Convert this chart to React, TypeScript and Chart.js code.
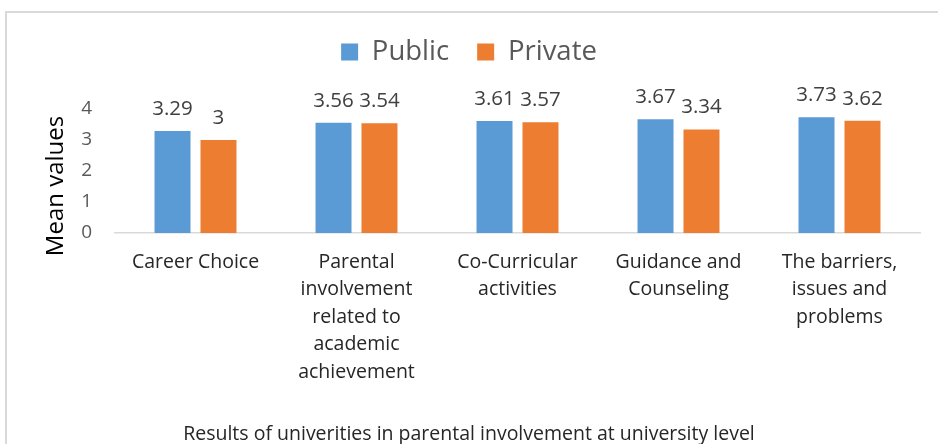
import React, { useEffect, useRef } from 'react';
import { Chart, registerables } from 'chart.js';

Chart.register(...registerables);

const FONT = '"Open Sans", Lato, sans-serif';

const categories: (string | string[])[] = [
  'Career Choice',
  ['Parental', 'involvement', 'related to', 'academic', 'achievement'],
  ['Co-Curricular', 'activities'],
  ['Guidance and', 'Counseling'],
  ['The barriers,', 'issues and', 'problems'],
];
const seriesNames = ['Public', 'Private'];
const publicValues = [3.29, 3.56, 3.61, 3.67, 3.73];
const privateValues = [3, 3.54, 3.57, 3.34, 3.62];
const yMin = 0;
const yMax = 4;
const yStep = 1;
const yTitle = 'Mean values';
const caption = 'Results of univerities in parental involvement at university level';

const dataLabelPlugin = {
  id: 'dataLabels',
  afterDatasetsDraw(chart: any) {
    const ctx = chart.ctx;
    ctx.save();
    ctx.font = `20.5px ${FONT}`;
    ctx.fillStyle = '#404040';
    ctx.textAlign = 'center';
    ctx.textBaseline = 'alphabetic';
    chart.data.datasets.forEach((ds: any, di: number) => {
      const meta = chart.getDatasetMeta(di);
      meta.data.forEach((bar: any, i: number) => {
        ctx.fillText(String(ds.data[i]), bar.x, bar.y - 16);
      });
    });
    ctx.restore();
  },
};

const yTitlePlugin = {
  id: 'yTitle',
  afterDraw(chart: any) {
    const ctx = chart.ctx;
    ctx.save();
    ctx.translate(56, 186);
    ctx.rotate(-Math.PI / 2);
    ctx.font = `24px ${FONT}`;
    ctx.fillStyle = '#000000';
    ctx.textAlign = 'center';
    ctx.textBaseline = 'middle';
    ctx.fillText(yTitle, 0, 0);
    ctx.restore();
  },
};

export default function App() {
  const canvasRef = useRef<HTMLCanvasElement | null>(null);

  useEffect(() => {
    if (!canvasRef.current) return;
    Chart.defaults.font.family = FONT;
    const legendPad = 28;
    const captionBox = 19.5;
    const chart = new Chart(canvasRef.current, {
      type: 'bar',
      data: {
        labels: categories,
        datasets: [
          {
            label: seriesNames[0],
            data: publicValues,
            backgroundColor: '#5B9BD5',
            categoryPercentage: 0.571,
            barPercentage: 0.783,
          },
          {
            label: seriesNames[1],
            data: privateValues,
            backgroundColor: '#ED7D31',
            categoryPercentage: 0.571,
            barPercentage: 0.783,
          },
        ],
      },
      options: {
        responsive: false,
        animation: false,
        devicePixelRatio: 1,
        layout: { padding: { top: 38.25 - legendPad, right: 18, bottom: 0, left: 18 } },
        scales: {
          x: {
            grid: { display: false, drawTicks: false },
            border: { display: true, color: '#d9d9d9', width: 1.5 },
            ticks: {
              font: { family: FONT, size: 19.5, lineHeight: 1.41 },
              color: '#262626',
              padding: 15.5,
              maxRotation: 0,
              autoSkip: false,
            },
            afterFit: (s: any) => {
              s.height = 444 - captionBox - 233;
            },
          },
          y: {
            min: yMin,
            max: yMax,
            ticks: {
              stepSize: yStep,
              font: { family: FONT, size: 19 },
              color: '#595959',
              padding: 23,
            },
            grid: { display: false, drawTicks: false },
            border: { display: false },
            afterFit: (s: any) => {
              s.width = 97;
            },
          },
        },
        plugins: {
          legend: {
            position: 'top',
            labels: {
              boxWidth: 17,
              boxHeight: 17,
              padding: legendPad,
              font: { family: FONT, size: 27.5 },
              color: '#595959',
            },
          },
          subtitle: {
            display: true,
            text: '',
            position: 'top',
            weight: 500,
            padding: { top: 32.25, bottom: 0 },
            font: { size: 1, lineHeight: 1 },
          },
          title: {
            display: true,
            text: caption,
            position: 'bottom',
            font: { family: FONT, size: 19.5, weight: 'normal', lineHeight: 1.0 },
            color: '#262626',
            padding: { top: 0, bottom: 0 },
          },
          tooltip: { enabled: false },
        },
      } as any,
      plugins: [dataLabelPlugin, yTitlePlugin],
    });
    return () => chart.destroy();
  }, []);

  return (
    <div
      style={{
        position: 'fixed',
        left: 0,
        top: 0,
        width: 938,
        height: 444,
        overflow: 'hidden',
        background: '#ffffff',
      }}
    >
      <div
        style={{
          position: 'absolute',
          left: 5,
          top: 11,
          width: 1000,
          height: 1000,
          border: '2px solid #d9d9d9',
          boxSizing: 'border-box',
        }}
      />
      <canvas
        ref={canvasRef}
        width={938}
        height={444}
        style={{ position: 'absolute', left: 0, top: 0, width: 938, height: 444 }}
      />
    </div>
  );
}
